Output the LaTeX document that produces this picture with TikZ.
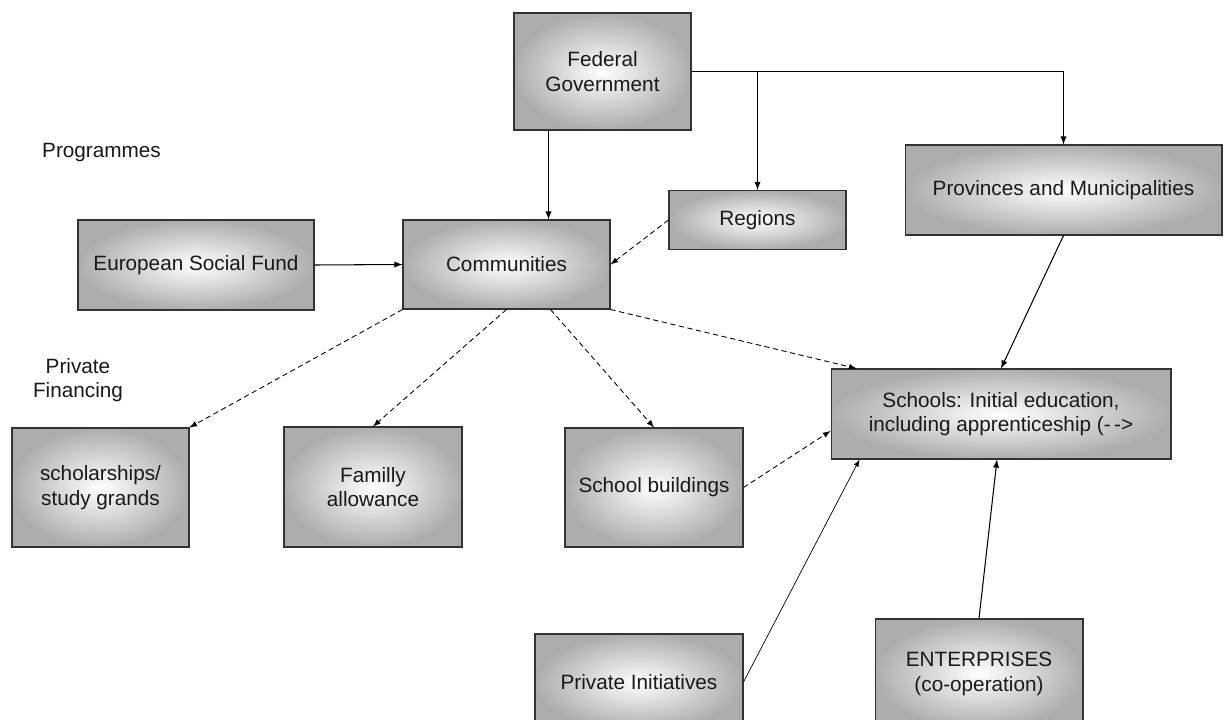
\documentclass[tikz,border=0pt]{standalone}
\usepackage{fontspec}
\setmainfont{Liberation Sans}
\usepackage{tikz}
\usepackage{xcolor}
\usetikzlibrary{positioning,arrows}

\begin{document}
\begin{tikzpicture}[x=0.02cm, y=-0.02cm, >=latex,
                    box/.style={shape=rectangle, draw=black!80, line width=0.6pt, inner sep=2pt,
                                shading=radial, inner color=white, outer color=black!32,
                                align=center, text=black!90,
                                font=\fontsize{11.8}{14}\selectfont},
                    lbl/.style={text=black!90, align=center, font=\fontsize{11.8}{14}\selectfont},
                    dline/.style={densely dashed, line width=0.5pt},
                    sline/.style={line width=0.6pt}]
                    \clip (0,0) rectangle (1224,720);
                    \fill[white] (0,0) rectangle (1224,720);

                    \node[box, minimum width=3.54cm, minimum height=2.34cm] (fed) at (602.5,71.5) {Federal\\Government};
                    \node[box, minimum width=6.34cm, minimum height=1.8cm] (prov) at (1063.5,190) {Provinces and Municipalities};
                    \node[box, minimum width=3.54cm, minimum height=1.18cm] (reg) at (757.5,220) {Regions};
                    \node[box, minimum width=4.14cm, minimum height=1.78cm] (com) at (506.5,264.5) {Communities};
                    \node[box, minimum width=4.72cm, minimum height=1.8cm] (esf) at (196,265) {European Social Fund};
                    \node[box, minimum width=3.54cm, minimum height=2.38cm] (schol) at (100.5,487.5) {scholarships/\\study grands};
                    \node[box, minimum width=3.56cm, minimum height=2.4cm] (fam) at (373,487) {Familly\\allowance};
                    \node[box, minimum width=3.56cm, minimum height=2.38cm] (build) at (654,487.5) {School buildings};
                    \node[box, minimum width=6.8cm, minimum height=1.8cm] (schools) at (1001,414) {Schools: Initial education,\\including apprenticeship (-\,-\textgreater};
                    \node[box, minimum width=4.16cm, minimum height=1.92cm] (init) at (639,682) {Private Initiatives};
                    \node[box, minimum width=4.16cm, minimum height=2.2cm] (ent) at (979,674) {ENTERPRISES\\(co-operation)};

                    \node[lbl, anchor=west] (prog) at (36,153) {Programmes};
                    \node[lbl] (priv) at (78,380) {Private\\Financing};

                    % federal level
                    \coordinate (f1) at ([xshift=-1.08cm]fed.south);
                    \path [->, sline] (f1) edge (f1 |- com.north);
                    \draw [->, sline] (fed.east) -| (prov.north);
                    \path [->, sline] (reg.north |- fed.east) edge (reg.north);
                    \path [->, sline] (esf.east) edge (com.west);
                    \path [->, dline] (reg.west) edge (com.east);

                    % communities
                    \path [->, dline] (com.south west) edge (schol.north east);
                    \path [->, dline] (com.south) edge (fam.north);
                    \path [->, dline] ([xshift=0.88cm]com.south) edge (build.north);
                    \path [->, dline] (com.south east) edge ([xshift=0.52cm]schools.north west);

                    % schools
                    \path [->, sline] (prov.south) edge (schools.north);
                    \path [->, dline] (build.east) edge ([yshift=-0.34cm]schools.west);
                    \path [->, line width=0.4pt] (init.east) edge ([xshift=0.58cm]schools.south west);
                    \path [->, sline] (ent.north) edge ([xshift=-0.08cm]schools.south);
                \end{tikzpicture}
\end{document}
